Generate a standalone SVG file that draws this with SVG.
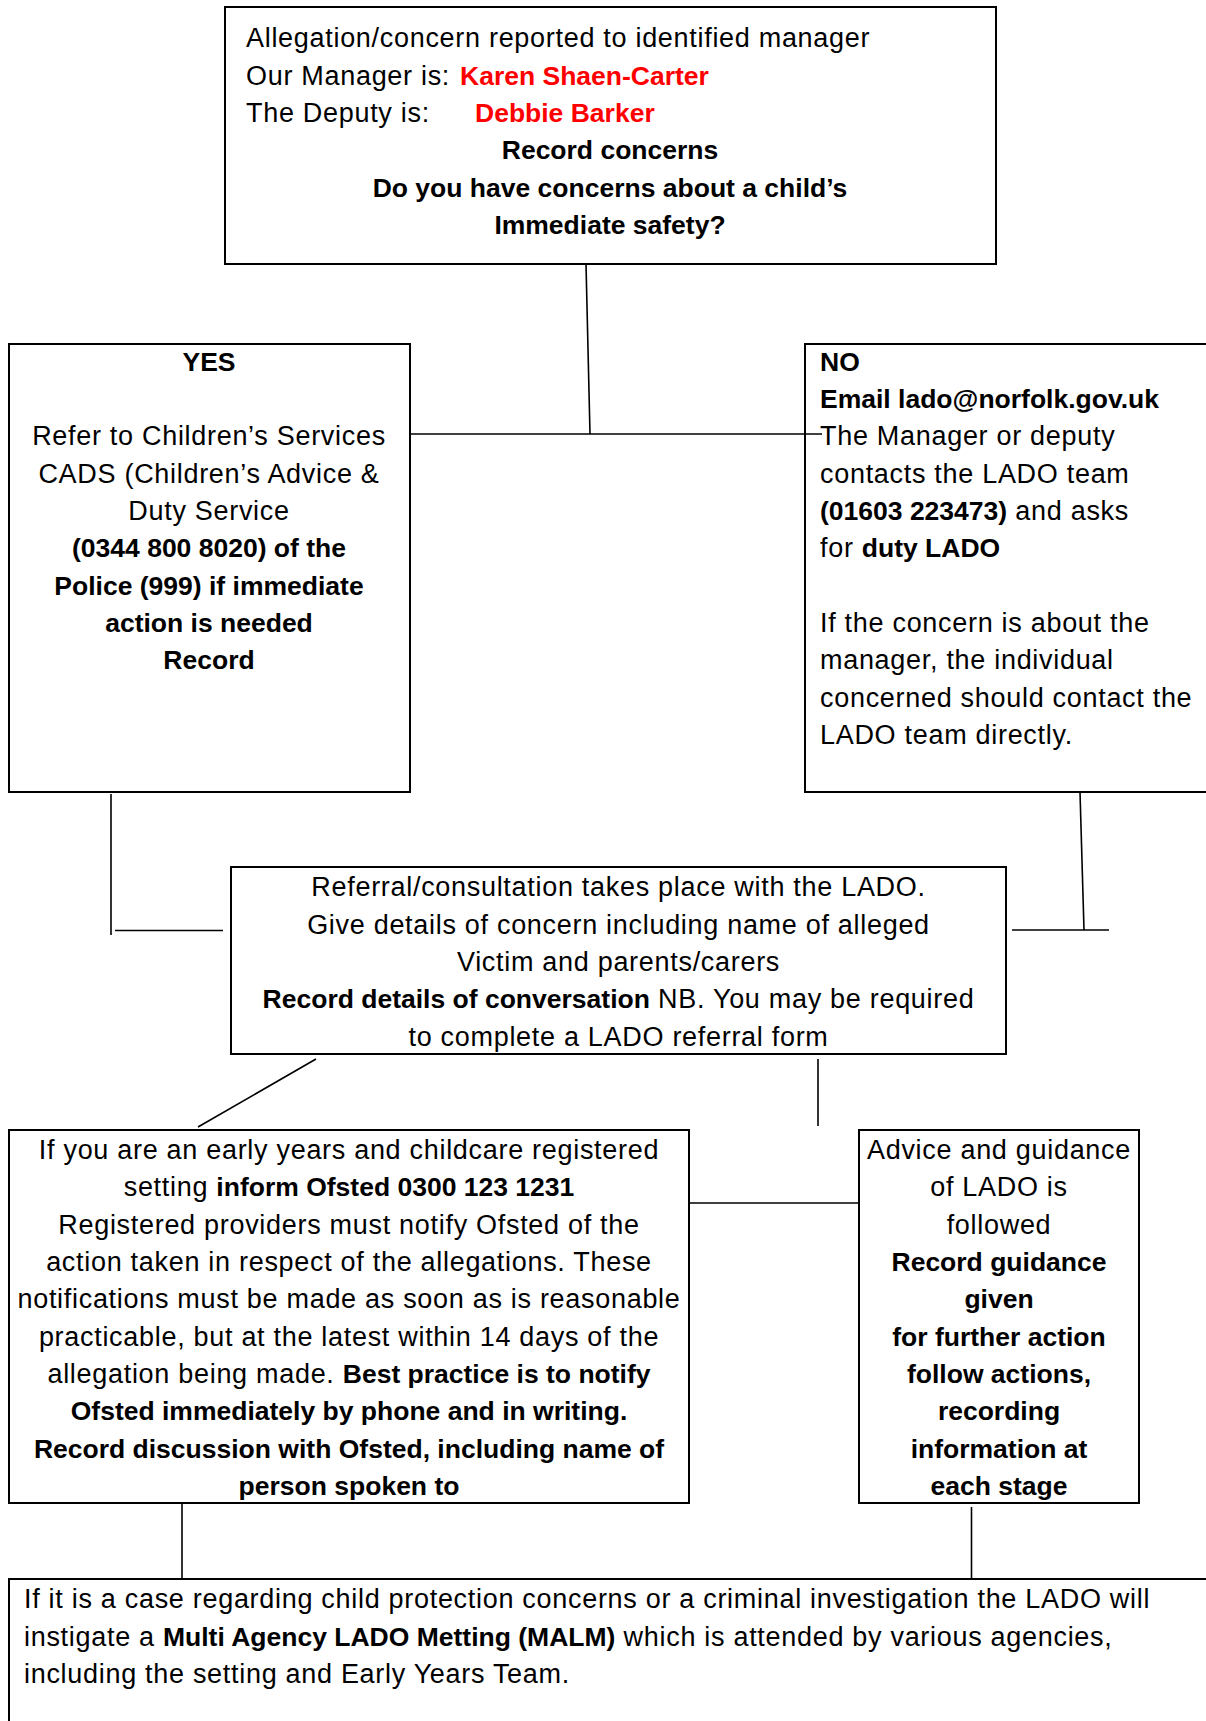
<svg xmlns="http://www.w3.org/2000/svg" width="1206" height="1721" viewBox="0 0 1206 1721">
<style>
text{font-family:"Liberation Sans",Arial,sans-serif;font-size:27px;letter-spacing:0.7px;fill:#000}
.c{text-anchor:middle}
.b{font-weight:bold;font-size:26.5px;letter-spacing:0}
.red{fill:#ff0000}
.box{fill:#fff;stroke:#000;stroke-width:2}
.ln{stroke:#000;stroke-width:1.6;fill:none}
</style>
<rect width="1206" height="1721" fill="#fff"/>
<g id="start">
<rect class="box" x="225" y="7" width="771" height="257" stroke-width="1.8"/>
<text x="246" y="47">Allegation/concern reported to identified manager</text>
<text y="84.5"><tspan x="246">Our Manager is:</tspan><tspan x="460" class="b red">Karen Shaen-Carter</tspan></text>
<text y="122"><tspan x="246">The Deputy is:</tspan><tspan x="475" class="b red">Debbie Barker</tspan></text>
<text class="c b" x="610" y="159">Record concerns</text>
<text class="c b" x="610" y="196.5">Do you have concerns about a child’s</text>
<text class="c b" x="610" y="234">Immediate safety?</text>
</g>
<g id="yes">
<rect class="box" x="9" y="344" width="401" height="448"/>
<text class="c b" x="209" y="371">YES</text>
<text class="c" x="209" y="445">Refer to Children’s Services</text>
<text class="c" x="209" y="482.5">CADS (Children’s Advice &amp;</text>
<text class="c" x="209" y="520">Duty Service</text>
<text class="c b" x="209" y="557">(0344 800 8020) of the</text>
<text class="c b" x="209" y="594.5">Police (999) if immediate</text>
<text class="c b" x="209" y="632">action is needed</text>
<text class="c b" x="209" y="669">Record</text>
</g>
<g id="no">
<rect class="box" x="805" y="344" width="420" height="448"/>
<text class="b" x="820" y="371">NO</text>
<text class="b" x="820" y="408">Email lado@norfolk.gov.uk</text>
<text x="820" y="445">The Manager or deputy</text>
<text x="820" y="482.5">contacts the LADO team</text>
<text x="820" y="520"><tspan class="b">(01603 223473)</tspan> and asks</text>
<text x="820" y="557">for <tspan class="b">duty LADO</tspan></text>
<text x="820" y="632">If the concern is about the</text>
<text x="820" y="669">manager, the individual</text>
<text x="820" y="706.5">concerned should contact the</text>
<text x="820" y="744">LADO team directly.</text>
</g>
<g id="referral">
<rect class="box" x="231" y="867" width="775" height="187"/>
<text class="c" x="618.5" y="896">Referral/consultation takes place with the LADO.</text>
<text class="c" x="618.5" y="933.5">Give details of concern including name of alleged</text>
<text class="c" x="618.5" y="971">Victim and parents/carers</text>
<text class="c" x="618.5" y="1008"><tspan class="b">Record details of conversation</tspan> NB. You may be required</text>
<text class="c" x="618.5" y="1045.5">to complete a LADO referral form</text>
</g>
<g id="ofsted">
<rect class="box" x="9" y="1130" width="680" height="373"/>
<text class="c" x="349" y="1159">If you are an early years and childcare registered</text>
<text class="c" x="349" y="1196">setting <tspan class="b">inform Ofsted 0300 123 1231</tspan></text>
<text class="c" x="349" y="1233.5">Registered providers must notify Ofsted of the</text>
<text class="c" x="349" y="1271">action taken in respect of the allegations. These</text>
<text class="c" x="349" y="1308">notifications must be made as soon as is reasonable</text>
<text class="c" x="349" y="1345.5">practicable, but at the latest within 14 days of the</text>
<text class="c" x="349" y="1383">allegation being made. <tspan class="b">Best practice is to notify</tspan></text>
<text class="c b" x="349" y="1420">Ofsted immediately by phone and in writing.</text>
<text class="c b" x="349" y="1457.5">Record discussion with Ofsted, including name of</text>
<text class="c b" x="349" y="1495">person spoken to</text>
</g>
<g id="advice">
<rect class="box" x="859" y="1130" width="280" height="373"/>
<text class="c" x="999" y="1159">Advice and guidance</text>
<text class="c" x="999" y="1196">of LADO is</text>
<text class="c" x="999" y="1233.5">followed</text>
<text class="c b" x="999" y="1271">Record guidance</text>
<text class="c b" x="999" y="1308">given</text>
<text class="c b" x="999" y="1345.5">for further action</text>
<text class="c b" x="999" y="1383">follow actions,</text>
<text class="c b" x="999" y="1420">recording</text>
<text class="c b" x="999" y="1457.5">information at</text>
<text class="c b" x="999" y="1495">each stage</text>
</g>
<g id="malm">
<rect class="box" x="9" y="1579" width="1220" height="200"/>
<text x="24" y="1608">If it is a case regarding child protection concerns or a criminal investigation the LADO will</text>
<text x="24" y="1645.5">instigate a <tspan class="b">Multi Agency LADO Metting (MALM)</tspan> which is attended by various agencies,</text>
<text x="24" y="1683">including the setting and Early Years Team.</text>
</g>
<g id="connectors">
<line class="ln" x1="586" y1="264" x2="590" y2="434"/>
<line class="ln" x1="410" y1="434" x2="822" y2="434" stroke-width="2"/>
<line class="ln" x1="111" y1="794" x2="111" y2="935"/>
<line class="ln" x1="115" y1="930.5" x2="223" y2="930.5" stroke-width="2"/>
<line class="ln" x1="1080" y1="792" x2="1084" y2="930"/>
<line class="ln" x1="1012" y1="930" x2="1109" y2="930" stroke-width="2"/>
<line class="ln" x1="316" y1="1059" x2="198" y2="1127"/>
<line class="ln" x1="818" y1="1059" x2="818" y2="1126"/>
<line class="ln" x1="689" y1="1203" x2="859" y2="1203" stroke-width="2"/>
<line class="ln" x1="182" y1="1503" x2="182" y2="1579"/>
<line class="ln" x1="971.5" y1="1507" x2="971.5" y2="1579"/>
</g>
</svg>
